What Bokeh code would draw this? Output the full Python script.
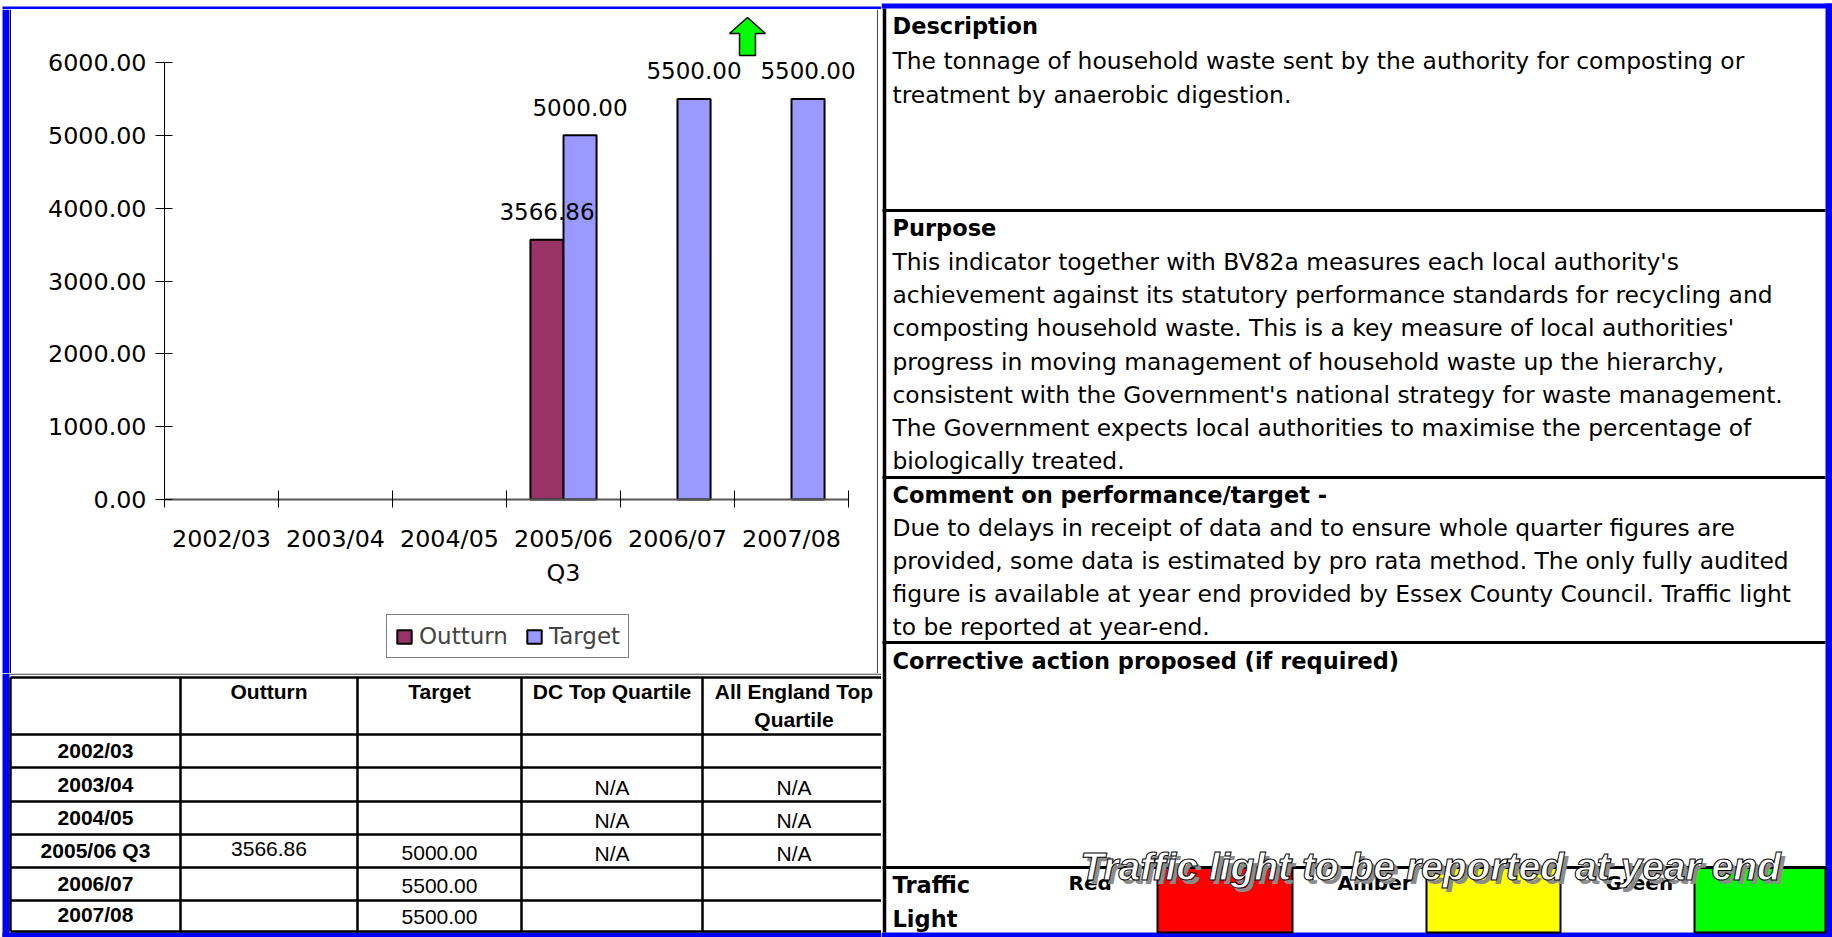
import numpy as np
from bokeh.plotting import figure
from bokeh.layouts import row, column
from bokeh.models import Range1d, FixedTicker, Legend, LegendItem, ColumnDataSource, Span
from bokeh.transform import dodge
from bokeh.core.properties import value
from bokeh.embed import file_html
from bokeh.resources import INLINE

# ---------------- data ----------------
years = ["2002/03", "2003/04", "2004/05", "2005/06 Q3", "2006/07", "2007/08"]
axis_year_labels = ["2002/03", "2003/04", "2004/05", "2005/06\nQ3", "2006/07", "2007/08"]
outturn = [None, None, None, 3566.86, None, None]
target = [None, None, None, 5000.00, 5500.00, 5500.00]
dc_top_quartile = ["", "N/A", "N/A", "N/A", "", ""]
england_top_quartile = ["", "N/A", "N/A", "N/A", "", ""]
series_names = ["Outturn", "Target"]
series_colors = ["#993366", "#9999FF"]
y_ticks = [0, 1000, 2000, 3000, 4000, 5000, 6000]
y_tick_labels = ["0.00", "1000.00", "2000.00", "3000.00", "4000.00", "5000.00", "6000.00"]
table_headers = ["", "Outturn", "Target", "DC Top Quartile", "All England Top\nQuartile"]
traffic_labels = ["Red", "Amber", "Green"]
traffic_colors = ["#FF0000", "#FFFF00", "#00FF00"]
traffic_note = "Traffic light to be reported at year end"
section_titles = ["Description", "Purpose", "Comment on performance/target -",
                  "Corrective action proposed (if required)"]
section_lines = [
    ["The tonnage of household waste sent by the authority for composting or",
     "treatment by anaerobic digestion."],
    ["This indicator together with BV82a measures each local authority's",
     "achievement against its statutory performance standards for recycling and",
     "composting household waste. This is a key measure of local authorities'",
     "progress in moving management of household waste up the hierarchy,",
     "consistent with the Government's national strategy for waste management.",
     "The Government expects local authorities to maximise the percentage of",
     "biologically treated."],
    ["Due to delays in receipt of data and to ensure whole quarter figures are",
     "provided, some data is estimated by pro rata method. The only fully audited",
     "figure is available at year end provided by Essex County Council. Traffic light",
     "to be reported at year-end."],
    [],
]

# ---------------- layout constants (pixels) ----------------
TOTAL_W, TOTAL_H = 1832, 937
LEFT_W = 881
TOP_H = 9
STRIP_W = 11
CH_W = LEFT_W - STRIP_W          # 870
CH_H = 664
TB_H = TOTAL_H - TOP_H - CH_H    # 264
TX_W = TOTAL_W - LEFT_W          # 951
BLUE = "#0000FF"

AXIS_X = 153
PX_PER_CAT = 114.0
AXIS_Y = 490
PX_PER_UNIT = 437.0 / 6000
X_START = -AXIS_X / PX_PER_CAT
X_END = (CH_W - AXIS_X) / PX_PER_CAT
Y_START = -(CH_H - AXIS_Y) / PX_PER_UNIT
Y_END = AXIS_Y / PX_PER_UNIT

CHART_FONT = "DejaVu Sans"
FS = "23px"
AXIS_FS = "23.8px"


def num(v):
    return float("nan") if v is None else float(v)


def canvas(w, h):
    f = figure(width=w, height=h, x_range=Range1d(0, w), y_range=Range1d(h, 0),
               output_backend="svg", toolbar_location=None, min_border=0,
               x_axis_location=None, y_axis_location=None, outline_line_color=None,
               background_fill_color="white", border_fill_color="white")
    f.grid.visible = False
    return f


# ---------------- chart ----------------
p = figure(width=CH_W, height=CH_H, x_range=Range1d(X_START, X_END),
           y_range=Range1d(Y_START, Y_END), output_backend="svg", toolbar_location=None,
           min_border=0, outline_line_color=None,
           background_fill_color="white", border_fill_color="white")
p.grid.visible = False

idx = np.arange(len(years)) + 0.5
BAR_W = 0.29
OFF = 0.145
src = ColumnDataSource(dict(x=idx, outturn=[num(v) for v in outturn],
                            target=[num(v) for v in target]))
r1 = p.vbar(x=dodge("x", -OFF), top="outturn", width=BAR_W, source=src,
            fill_color=series_colors[0], line_color="black", line_width=2)
r2 = p.vbar(x=dodge("x", OFF), top="target", width=BAR_W, source=src,
            fill_color=series_colors[1], line_color="black", line_width=2)

lab_x, lab_y, lab_t = [], [], []
for i, v in enumerate(outturn):
    if v is not None:
        lab_x.append(idx[i] - OFF); lab_y.append(v); lab_t.append(f"{v:.2f}")
for i, v in enumerate(target):
    if v is not None:
        lab_x.append(idx[i] + OFF); lab_y.append(v); lab_t.append(f"{v:.2f}")
p.text(x=lab_x, y=lab_y, text=lab_t, text_align="center", text_baseline="middle",
       y_offset=-28, text_font=value(CHART_FONT), text_font_size=FS, text_color="black")

# trend arrow (decoration)
ACX, AHW, ASW = 5.114, 0.158, 0.070
ATIP, ASH, ABASE = 6618, 6398, 6096
p.patch(x=[ACX, ACX + AHW, ACX + ASW, ACX + ASW, ACX - ASW, ACX - ASW, ACX - AHW],
        y=[ATIP, ASH, ASH, ABASE, ABASE, ASH, ASH],
        fill_color="#00FF00", line_color="black", line_width=1.5)

# right edge of the chart panel
p.add_layout(Span(location=6.254, dimension="height", line_color="#444444", line_width=1))

xa = p.xaxis[0]
xa.fixed_location = 0
xa.ticker = FixedTicker(ticks=[float(t) for t in idx], minor_ticks=list(range(len(years) + 1)))
xa.major_label_overrides = {float(t): lab for t, lab in zip(idx, axis_year_labels)}
xa.bounds = (0, len(years))
xa.major_tick_line_color = None
xa.major_tick_in = 0
xa.major_tick_out = 0
xa.minor_tick_in = 9
xa.minor_tick_out = 8
xa.minor_tick_line_color = "black"
xa.axis_line_color = "#555555"
xa.axis_line_width = 2
xa.major_label_standoff = 17
xa.major_label_text_font = CHART_FONT
xa.major_label_text_font_size = AXIS_FS
xa.major_label_text_color = "black"
xa.major_label_text_line_height = 1.23

ya = p.yaxis[0]
ya.fixed_location = 0
ya.ticker = FixedTicker(ticks=y_ticks, minor_ticks=[])
ya.major_label_overrides = dict(zip(y_ticks, y_tick_labels))
ya.bounds = (0, 6000)
ya.major_tick_in = 8
ya.major_tick_out = 9
ya.major_tick_line_color = "black"
ya.axis_line_color = "black"
ya.major_label_standoff = 9
ya.major_label_text_font = CHART_FONT
ya.major_label_text_font_size = AXIS_FS
ya.major_label_text_color = "black"

legend = Legend(items=[LegendItem(label=series_names[0], renderers=[r1]),
                       LegendItem(label=series_names[1], renderers=[r2])],
                orientation="horizontal", location=(375, 15),
                border_line_color="black", border_line_width=1,
                label_text_font=CHART_FONT, label_text_font_size=FS,
                glyph_width=18, glyph_height=17, label_standoff=6, spacing=17,
                padding=8, margin=0, background_fill_color="white")
p.add_layout(legend, "center")

# ---------------- strips ----------------
top_strip = canvas(LEFT_W, TOP_H)
top_strip.quad(left=[2], right=[LEFT_W], top=[3], bottom=[8], fill_color=BLUE, line_color=None)
top_strip.segment(x0=[9], y0=[8.5], x1=[LEFT_W], y1=[8.5], line_color="black", line_width=1)

left_strip = canvas(STRIP_W, CH_H)
left_strip.quad(left=[2], right=[9], top=[0], bottom=[CH_H], fill_color=BLUE, line_color=None)
left_strip.segment(x0=[10], y0=[0], x1=[10], y1=[CH_H], line_color="black", line_width=1)

# ---------------- table ----------------
tb = canvas(LEFT_W, TB_H)
col_edges = [10, 180, 357, 521, 702]
row_edges = [4, 61, 94, 128, 161, 194, 227, 258]
tb.quad(left=[2, 2], right=[9, LEFT_W], top=[0, 259], bottom=[TB_H, TB_H],
        fill_color=BLUE, line_color=None)
tb.segment(x0=[9], y0=[0.6], x1=[LEFT_W], y1=[0.6], line_color="#444444", line_width=1.2)
tb.segment(x0=[col_edges[0]] * len(row_edges), y0=row_edges,
           x1=[LEFT_W] * len(row_edges), y1=row_edges, line_color="black", line_width=2.5)
tb.segment(x0=col_edges, y0=[row_edges[0]] * len(col_edges), x1=col_edges,
           y1=[row_edges[-1]] * len(col_edges), line_color="black", line_width=2.5)

TFS = "21px"
bounds_x = col_edges + [LEFT_W + 4]
centers = [(bounds_x[i] + bounds_x[i + 1]) / 2 for i in range(5)]
HEAD_Y = [17.5, 45.6]
hx, hy, ht = [], [], []
for ci, h in enumerate(table_headers):
    for li, part in enumerate(h.split("\n")):
        if part:
            hx.append(centers[ci]); hy.append(HEAD_Y[li]); ht.append(part)
tb.text(x=hx, y=hy, text=ht, text_align="center", text_baseline="middle",
        text_font=value("Liberation Sans"), text_font_style="bold",
        text_font_size=TFS, text_color="black")

row_bottoms = row_edges[2:]
tb.text(x=[centers[0]] * len(years), y=[b - 17.5 for b in row_bottoms], text=years,
        text_align="center", text_baseline="middle", text_font=value("Liberation Sans"),
        text_font_style="bold", text_font_size=TFS, text_color="black")

vx, vy, vt = [], [], []
for i in range(len(years)):
    if outturn[i] is not None:
        vx.append(centers[1]); vy.append(row_bottoms[i] - 19); vt.append(f"{outturn[i]:.2f}")
    if target[i] is not None:
        vx.append(centers[2]); vy.append(row_bottoms[i] - 14.5); vt.append(f"{target[i]:.2f}")
    if dc_top_quartile[i]:
        vx.append(centers[3]); vy.append(row_bottoms[i] - 14.5); vt.append(dc_top_quartile[i])
    if england_top_quartile[i]:
        vx.append(centers[4]); vy.append(row_bottoms[i] - 14.5); vt.append(england_top_quartile[i])
tb.text(x=vx, y=vy, text=vt, text_align="center", text_baseline="middle",
        text_font=value("Liberation Sans"), text_font_size=TFS, text_color="black")

# ---------------- text panel ----------------
tx = canvas(TX_W, TOTAL_H)
RIGHT_EDGE = TX_W - 7
BOTTOM_EDGE = 932
tx.quad(left=[0, RIGHT_EDGE, 0], right=[TX_W, TX_W, TX_W], top=[3, 3, BOTTOM_EDGE],
        bottom=[8, TOTAL_H, TOTAL_H], fill_color=BLUE, line_color=None)

TL_TOP = 867
box_l = [276, 545, 813]
box_r = [411, 679, RIGHT_EDGE]
tx.quad(left=box_l, right=box_r, top=[TL_TOP] * 3, bottom=[BOTTOM_EDGE] * 3,
        fill_color=traffic_colors, line_color="black", line_width=2)

divs = [210, 477, 642, TL_TOP]
tx.segment(x0=[1] * 4, y0=divs, x1=[RIGHT_EDGE] * 4, y1=divs, line_color="black", line_width=3)
tx.segment(x0=[3], y0=[8], x1=[3], y1=[BOTTOM_EDGE], line_color="black", line_width=3.5)

TEXT_X = 11
HFS, BFS = "22.5px", "23.4px"
head_y = [25.7, 227.8, 494.2, 660.0]
body_first = [60.8, 261.7, 527.0, 0]
body_step = [33.6, 33.1, 33.1, 0]
tx.text(x=[TEXT_X] * 4, y=head_y, text=section_titles,
        text_baseline="middle", text_font=value("DejaVu Sans"), text_font_style="bold",
        text_font_size=HFS, text_color="black")
bx, by, bt = [], [], []
for si, lines in enumerate(section_lines):
    for li, line in enumerate(lines):
        bx.append(TEXT_X); by.append(body_first[si] + body_step[si] * li); bt.append(line)
tx.text(x=bx, y=by, text=bt, text_baseline="middle", text_font=value("DejaVu Sans"),
        text_font_size=BFS, text_color="black")

tx.text(x=[TEXT_X, TEXT_X], y=[884.7, 918.5], text=["Traffic", "Light"],
        text_baseline="middle", text_font=value("DejaVu Sans"), text_font_style="bold",
        text_font_size=HFS, text_color="black")
tx.text(x=[187, 456, 724], y=[882] * 3, text=traffic_labels,
        text_baseline="middle", text_font=value("DejaVu Sans"), text_font_style="bold",
        text_font_size="20px", text_color="black")

NOTE_X, NOTE_Y = 549, 866
tx.text(x=[NOTE_X], y=[NOTE_Y], x_offset=4, y_offset=4, text=[traffic_note],
        text_align="center", text_baseline="middle",
        text_font=value("Liberation Sans"), text_font_style="bold italic",
        text_font_size="39px", text_color="#8c8c8c")
tx.text(x=[NOTE_X], y=[NOTE_Y], text=[traffic_note], text_align="center",
        text_baseline="middle", text_font=value("Liberation Sans"),
        text_font_style="bold italic", text_font_size="39px", text_color="white",
        text_outline_color="black")

left = column(top_strip, row(left_strip, p), tb)
page = row(left, tx)

open("out.html", "w").write(file_html(page, INLINE, title="BV chart"))
